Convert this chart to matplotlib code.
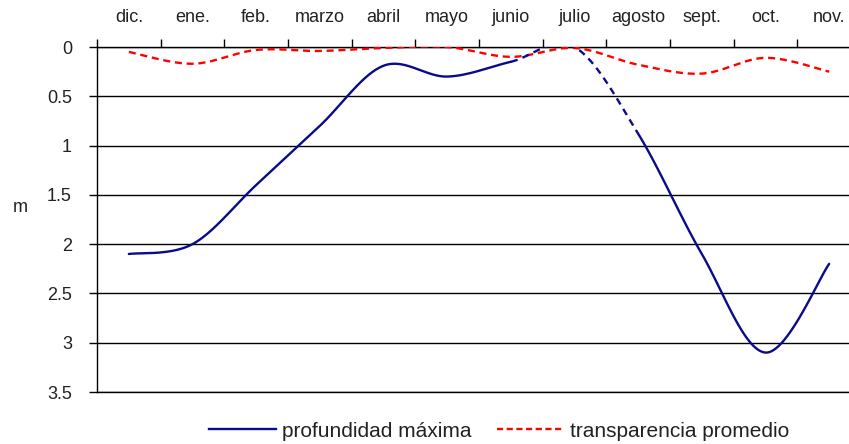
import numpy as np
import matplotlib
matplotlib.use("Agg")
import matplotlib.pyplot as plt
from matplotlib.lines import Line2D

plt.rcParams['font.family'] = ['Liberation Sans', 'DejaVu Sans']

months = ["dic.", "ene.", "feb.", "marzo", "abril", "mayo", "junio",
          "julio", "agosto", "sept.", "oct.", "nov."]
profundidad = [2.10, 2.00, 1.40, 0.80, 0.19, 0.30, 0.15, 0.00, 0.88, 2.10, 3.10, 2.20]
transparencia = [0.05, 0.17, 0.03, 0.04, 0.01, 0.00, 0.10, 0.01, 0.18, 0.27, 0.11, 0.25]
yticks = [0, 0.5, 1, 1.5, 2, 2.5, 3, 3.5]
ytick_labels = ["0", "0.5", "1", "1.5", "2", "2.5", "3", "3.5"]


def smooth(x, y, n=40):
    x = np.asarray(x, float); y = np.asarray(y, float)
    px = np.concatenate([[x[0]], x, [x[-1]]])
    py = np.concatenate([[y[0]], y, [y[-1]]])
    xs, ys = [], []
    for i in range(1, len(px) - 2):
        p0, p1, p2, p3 = (np.array([px[j], py[j]]) for j in (i - 1, i, i + 1, i + 2))
        c1 = p1 + (p2 - p0) / 6.0
        c2 = p2 - (p3 - p1) / 6.0
        t = np.linspace(0, 1, n)[:, None]
        b = ((1 - t) ** 3) * p1 + 3 * ((1 - t) ** 2) * t * c1 + 3 * (1 - t) * t ** 2 * c2 + t ** 3 * p2
        if i > 1:
            b = b[1:]
        xs.append(b[:, 0]); ys.append(b[:, 1])
    return np.concatenate(xs), np.concatenate(ys)


fig = plt.figure(figsize=(8.49, 4.44), dpi=100)
W, H = 849, 444
ax = fig.add_axes([97 / W, (H - 392) / H, 764 / W, 345 / H])

x = np.arange(len(months))
navy = '#0a0a8a'
red = '#ff0000'
txt = '#222222'
fs = 13

bx, by = smooth(x, profundidad)
m1 = bx <= 6
m2 = (bx >= 6) & (bx <= 8)
m3 = bx >= 8
ax.plot(bx[m1], by[m1], color=navy, lw=1.7, solid_capstyle='round', zorder=4)
ax.plot(bx[m2], by[m2], color=navy, lw=1.7, dashes=(3, 2.2), zorder=4)
ax.plot(bx[m3], by[m3], color=navy, lw=1.7, solid_capstyle='round', zorder=4)

rx, ry = smooth(x, transparencia)
ax.plot(rx, ry, color=red, lw=1.7, dashes=(3, 2), zorder=3)

ax.set_xlim(-0.5, 11.5)
ax.set_ylim(3.5, 0)
ax.set_yticks(yticks)
ax.set_yticklabels(ytick_labels, fontsize=fs, color=txt)
ax.yaxis.grid(True, color='black', lw=1.0)
ax.axhline(3.5, color='black', lw=1.0, clip_on=False, zorder=1)
ax.axhline(0, color='black', lw=1.0, clip_on=False, zorder=1)
ax.tick_params(axis='y', length=6, width=1, color='black', pad=12)

ax.xaxis.tick_top()
ax.set_xticks(x)
ax.set_xticklabels(months, fontsize=fs, color=txt)
ax.set_xticks(np.arange(-0.5, 12, 1), minor=True)
ax.tick_params(axis='x', which='major', length=0, pad=15)
ax.tick_params(axis='x', which='minor', length=6, width=1, color='black', top=True, bottom=False)

for s in ['right', 'bottom', 'top']:
    ax.spines[s].set_visible(False)
ax.spines['left'].set_color('black')
ax.spines['left'].set_linewidth(1)
ax.set_axisbelow(True)

fig.text(20 / W, 1 - 207 / H, "m", fontsize=fs, color=txt, ha='center', va='center')

handles = [Line2D([], [], color=navy, lw=1.7),
           Line2D([], [], color=red, lw=1.7, dashes=(2.6, 1.5))]
fig.legend(handles, ["profundidad máxima", "transparencia promedio"],
           loc='center', bbox_to_anchor=(499 / W, 1 - 431 / H), ncol=2, frameon=False,
           fontsize=15, handlelength=3.2, handletextpad=0.3, columnspacing=1.2,
           labelcolor=txt, borderpad=0, borderaxespad=0)

fig.savefig("out.png", dpi=100)
